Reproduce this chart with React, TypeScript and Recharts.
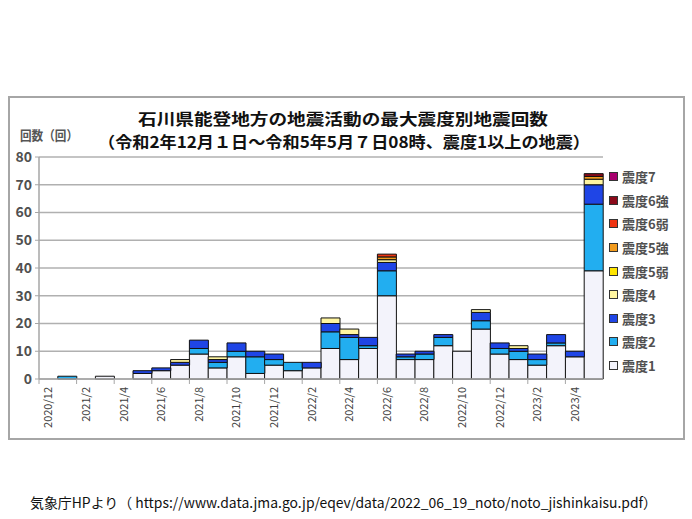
import React from "react";
import { BarChart, Bar, XAxis, YAxis, CartesianGrid } from "recharts";

const months = [
  "2020/12", "2021/1", "2021/2", "2021/3", "2021/4", "2021/5", "2021/6", "2021/7", "2021/8", "2021/9",
  "2021/10", "2021/11", "2021/12", "2022/1", "2022/2", "2022/3", "2022/4", "2022/5", "2022/6", "2022/7",
  "2022/8", "2022/9", "2022/10", "2022/11", "2022/12", "2023/1", "2023/2", "2023/3", "2023/4", "2023/5",
];

// counts per month, by max intensity
const shindo1 = [0, 0, 0, 1, 0, 2, 3, 5, 9, 4, 8, 2, 5, 3, 4, 11, 7, 11, 30, 7, 7, 12, 10, 18, 9, 7, 5, 12, 8, 39];
const shindo2 = [0, 1, 0, 0, 0, 0, 0, 0, 2, 2, 2, 6, 2, 3, 0, 6, 8, 1, 9, 1, 2, 3, 0, 3, 2, 3, 2, 1, 0, 24];
const shindo3 = [0, 0, 0, 0, 0, 1, 1, 1, 3, 1, 3, 2, 2, 0, 2, 3, 1, 3, 3, 1, 1, 1, 0, 3, 2, 1, 2, 3, 2, 7];
const shindo4 = [0, 0, 0, 0, 0, 0, 0, 1, 0, 1, 0, 0, 0, 0, 0, 2, 2, 0, 1, 0, 0, 0, 0, 1, 0, 1, 0, 0, 0, 2];
const shindo5w = [0, 0, 0, 0, 0, 0, 0, 0, 0, 0, 0, 0, 0, 0, 0, 0, 0, 0, 0, 0, 0, 0, 0, 0, 0, 0, 0, 0, 0, 0];
const shindo5s = [0, 0, 0, 0, 0, 0, 0, 0, 0, 0, 0, 0, 0, 0, 0, 0, 0, 0, 1, 0, 0, 0, 0, 0, 0, 0, 0, 0, 0, 1];
const shindo6w = [0, 0, 0, 0, 0, 0, 0, 0, 0, 0, 0, 0, 0, 0, 0, 0, 0, 0, 1, 0, 0, 0, 0, 0, 0, 0, 0, 0, 0, 0];
const shindo6s = [0, 0, 0, 0, 0, 0, 0, 0, 0, 0, 0, 0, 0, 0, 0, 0, 0, 0, 0, 0, 0, 0, 0, 0, 0, 0, 0, 0, 0, 1];
const shindo7 = [0, 0, 0, 0, 0, 0, 0, 0, 0, 0, 0, 0, 0, 0, 0, 0, 0, 0, 0, 0, 0, 0, 0, 0, 0, 0, 0, 0, 0, 0];

const yTicks = [0, 10, 20, 30, 40, 50, 60, 70, 80];

const series = [
  { key: "s1", name: "震度1", values: shindo1, color: "#f3f3fb" },
  { key: "s2", name: "震度2", values: shindo2, color: "#22aef0" },
  { key: "s3", name: "震度3", values: shindo3, color: "#1f45e6" },
  { key: "s4", name: "震度4", values: shindo4, color: "#fff5a0" },
  { key: "s5w", name: "震度5弱", values: shindo5w, color: "#ffe500" },
  { key: "s5s", name: "震度5強", values: shindo5s, color: "#f29b1d" },
  { key: "s6w", name: "震度6弱", values: shindo6w, color: "#ee3311" },
  { key: "s6s", name: "震度6強", values: shindo6s, color: "#8b0a1a" },
  { key: "s7", name: "震度7", values: shindo7, color: "#a8006e" },
];

const data = months.map((m, i) => {
  const row: Record<string, number | string> = { month: m };
  series.forEach((s) => {
    row[s.key] = s.values[i];
  });
  return row;
});

const W = 692;
const H = 519;
const PLOT_LEFT = 39;
const PLOT_RIGHT = 603;
const PLOT_TOP = 157;
const PLOT_BOTTOM = 379;
const BAND = (PLOT_RIGHT - PLOT_LEFT) / months.length;
const FONT = "'Noto Sans CJK JP', 'Noto Sans', sans-serif";

const XTick = (props: any) => {
  const { x, payload, index } = props;
  if (index % 2 !== 0) return null;
  const edge = x - BAND / 2;
  return (
    <g>
      <line x1={edge} x2={edge} y1={PLOT_BOTTOM} y2={PLOT_BOTTOM + 5} stroke="#a6a6a6" />
      <text
        transform={`translate(${x + 4},${PLOT_BOTTOM + 8}) rotate(-90)`}
        textAnchor="end"
        fontSize={11}
        fill="#404040"
        fontFamily={FONT}
      >
        {payload.value}
      </text>
    </g>
  );
};

const App = () => {
  return (
    <div style={{ position: "absolute", left: 0, top: 0, width: W, height: H, background: "#fff", fontFamily: FONT }}>
      <div
        style={{
          position: "absolute",
          left: 8,
          top: 96,
          width: 673,
          height: 340,
          border: "2px solid #a6a6a6",
        }}
      />
      <BarChart
        width={W}
        height={H}
        data={data}
        barCategoryGap={0}
        margin={{ top: PLOT_TOP, right: W - PLOT_RIGHT, bottom: 0, left: PLOT_LEFT - 30 }}
        style={{ position: "absolute", left: 0, top: 0 }}
      >
        <CartesianGrid vertical={false} stroke="#b0b0b0" strokeWidth={1.5} />
        <XAxis
          dataKey="month"
          interval={0}
          height={H - PLOT_BOTTOM}
          tickLine={false}
          axisLine={{ stroke: "#a6a6a6", strokeWidth: 1.5 }}
          tick={<XTick />}
        />
        <YAxis
          width={30}
          domain={[0, 80]}
          ticks={yTicks}
          interval={0}
          tickSize={4}
          tickMargin={3}
          axisLine={{ stroke: "#a6a6a6", strokeWidth: 1.5 }}
          tickLine={{ stroke: "#a6a6a6" }}
          tick={{ fontSize: 14, fontWeight: "bold", fill: "#505050", fontFamily: FONT }}
        />
        {series.map((s) => (
          <Bar
            key={s.key}
            dataKey={s.key}
            name={s.name}
            stackId="a"
            fill={s.color}
            stroke="#111"
            strokeWidth={1}
            isAnimationActive={false}
          />
        ))}
      </BarChart>

      <div style={{ position: "absolute", left: 609, top: 165 }}>
        {[...series].reverse().map((s) => (
          <div key={s.key} style={{ display: "flex", alignItems: "center", height: 23.6 }}>
            <div
              style={{
                width: 7,
                height: 7,
                background: s.color,
                border: "1px solid #333",
                marginRight: 4,
              }}
            />
            <span style={{ fontSize: 13, fontWeight: "bold", color: "#505050" }}>{s.name}</span>
          </div>
        ))}
      </div>

      <svg width={W} height={H} style={{ position: "absolute", left: 0, top: 0, pointerEvents: "none" }}>
        <text x={138} y={125} fontSize={16} fontWeight="bold" fill="#111" fontFamily={FONT} textLength={410} lengthAdjust="spacingAndGlyphs">
          石川県能登地方の地震活動の最大震度別地震回数
        </text>
        <text x={98} y={148} fontSize={16} fontWeight="bold" fill="#111" fontFamily={FONT} textLength={492} lengthAdjust="spacingAndGlyphs">
          （令和2年12月１日～令和5年5月７日08時、震度1以上の地震）
        </text>
        <text x={20} y={140} fontSize={13} fontWeight="bold" fill="#555" fontFamily={FONT} textLength={58} lengthAdjust="spacingAndGlyphs">
          回数（回）
        </text>
        <text x={30} y={508} fontSize={14} fill="#111" fontFamily={FONT} textLength={627} lengthAdjust="spacingAndGlyphs">
          気象庁HPより（ https://www.data.jma.go.jp/eqev/data/2022_06_19_noto/noto_jishinkaisu.pdf）
        </text>
      </svg>
    </div>
  );
};

export default App;
